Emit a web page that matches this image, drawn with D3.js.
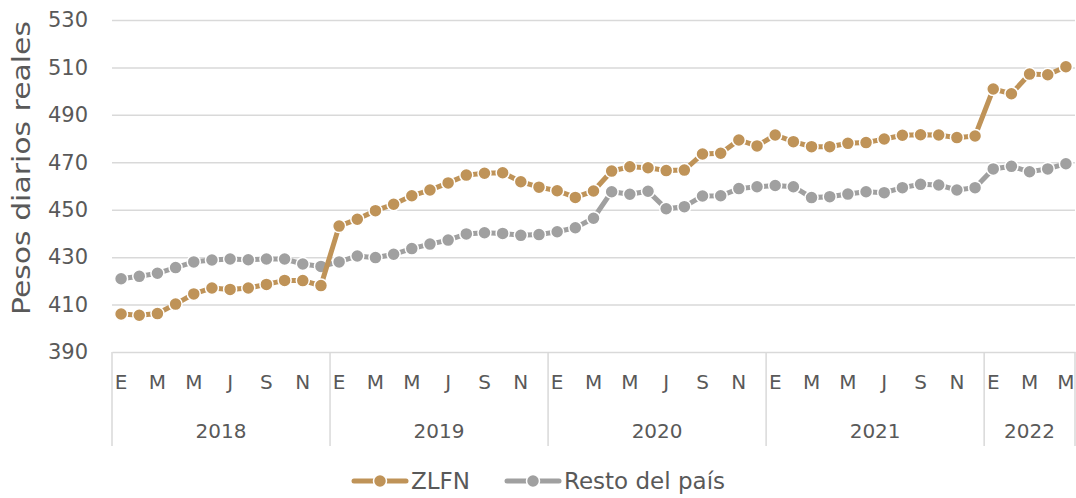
<!DOCTYPE html>
<html>
<head>
<meta charset="utf-8">
<script src="https://cdn.jsdelivr.net/npm/d3@7"></script>
<style>
  body { margin: 0; background: #fff; }
  text { font-family: "DejaVu Sans", sans-serif; fill: #595959; }
</style>
</head>
<body>
<div id="vis"></div>
<script>
// Declare constants for frame
const FRAME_WIDTH = 1076;
const FRAME_HEIGHT = 498;
const MARGINS = {left: 112, right: 1, top: 20, bottom: 146};

const VIS_WIDTH = FRAME_WIDTH - MARGINS.left - MARGINS.right;
const VIS_HEIGHT = FRAME_HEIGHT - MARGINS.top - MARGINS.bottom;

// data
const YEARS = ["2018", "2019", "2020", "2021", "2022"];
const MONTHS_PER_YEAR = [12, 12, 12, 12, 5];
const MONTH_INITIALS = ["E", "F", "M", "A", "M", "J", "J", "A", "S", "O", "N", "D"];
const Y_TICKS = [390, 410, 430, 450, 470, 490, 510, 530];

const ZLFN = [
  406.0, 405.5, 406.2, 410.2, 414.5, 417.0, 416.4, 417.0, 418.5, 420.2, 420.1, 418.0,
  443.1, 446.0, 449.6, 452.3, 455.9, 458.3, 461.3, 464.6, 465.4, 465.6, 461.8, 459.5,
  458.0, 455.2, 457.9, 466.3, 468.1, 467.7, 466.5, 466.7, 473.5, 473.8, 479.4, 476.9,
  481.5, 478.7, 476.6, 476.6, 478.0, 478.3, 479.8, 481.4, 481.6, 481.5, 480.4, 481.1,
  500.9, 498.9, 507.2, 506.9, 510.3
];
const RESTO = [
  420.9, 421.9, 423.2, 425.6, 428.0, 428.8, 429.2, 428.9, 429.2, 429.2, 427.1, 426.1,
  428.0, 430.5, 429.8, 431.2, 433.6, 435.5, 437.2, 439.8, 440.3, 440.0, 439.2, 439.5,
  440.7, 442.4, 446.4, 457.6, 456.5, 457.8, 450.4, 451.3, 455.8, 455.9, 458.9, 459.7,
  460.2, 459.7, 455.1, 455.5, 456.6, 457.6, 457.2, 459.3, 460.7, 460.4, 458.3, 459.3,
  467.2, 468.3, 466.0, 467.2, 469.4
];

const SERIES = [
  {name: "ZLFN", values: ZLFN, color: "#bf9358"},
  {name: "Resto del país", values: RESTO, color: "#a0a0a0"}
];

// build month list
const months = [];
YEARS.forEach((y, yi) => {
  for (let m = 0; m < MONTHS_PER_YEAR[yi]; m++) {
    months.push({key: y + "-" + m, year: y, m: m});
  }
});

const FRAME = d3.select("#vis")
  .append("svg")
    .attr("width", FRAME_WIDTH)
    .attr("height", FRAME_HEIGHT);

const X_SCALE = d3.scaleBand()
  .domain(months.map(d => d.key))
  .range([MARGINS.left, MARGINS.left + VIS_WIDTH]);

const Y_SCALE = d3.scaleLinear()
  .domain([390, 530])
  .range([MARGINS.top + VIS_HEIGHT, MARGINS.top]);

// y axis with gridlines
const yAxis = FRAME.append("g")
  .attr("transform", "translate(" + MARGINS.left + ",0)")
  .call(d3.axisLeft(Y_SCALE).tickValues(Y_TICKS).tickSize(-VIS_WIDTH).tickPadding(24));
yAxis.select(".domain").remove();
yAxis.selectAll(".tick line").attr("stroke", "#d9d9d9").attr("stroke-width", 1.5);
yAxis.selectAll(".tick text").attr("font-size", "21px").attr("fill", "#595959");
yAxis.selectAll(".tick").filter(d => d === 390).select("line").remove();

// axis title
FRAME.append("text")
  .attr("transform", "translate(30," + (MARGINS.top + 148) + ") rotate(-90)")
  .attr("text-anchor", "middle")
  .attr("font-size", "24px")
  .attr("textLength", 294)
  .attr("lengthAdjust", "spacingAndGlyphs")
  .text("Pesos diarios reales");

// x axis (months)
const xAxis = FRAME.append("g")
  .attr("transform", "translate(0," + (MARGINS.top + VIS_HEIGHT) + ")")
  .call(d3.axisBottom(X_SCALE)
    .tickSize(0)
    .tickPadding(23)
    .tickFormat(k => {
      const d = months.find(mm => mm.key === k);
      return d.m % 2 === 0 ? MONTH_INITIALS[d.m] : "";
    }));
xAxis.select(".domain").attr("stroke", "#d9d9d9").attr("stroke-width", 1.5);
xAxis.selectAll(".tick text").attr("font-size", "20px").attr("fill", "#595959");

// year separators and labels
let start = 0;
const bw = X_SCALE.step();
const yearGroup = FRAME.append("g");
const bounds = [];
MONTHS_PER_YEAR.forEach((n, i) => {
  bounds.push({year: YEARS[i], x0: X_SCALE(months[start].key), x1: X_SCALE(months[start + n - 1].key) + bw});
  start += n;
});
const sepX = [bounds[0].x0].concat(bounds.map(b => b.x1));
yearGroup.selectAll("line")
  .data(sepX)
  .enter()
  .append("line")
    .attr("x1", d => d).attr("x2", d => d)
    .attr("y1", MARGINS.top + VIS_HEIGHT)
    .attr("y2", MARGINS.top + VIS_HEIGHT + 94)
    .attr("stroke", "#d9d9d9")
    .attr("stroke-width", 1.5);
yearGroup.selectAll("text")
  .data(bounds)
  .enter()
  .append("text")
    .attr("x", d => (d.x0 + d.x1) / 2)
    .attr("y", MARGINS.top + VIS_HEIGHT + 86)
    .attr("text-anchor", "middle")
    .attr("font-size", "20px")
    .text(d => d.year);

// lines and markers
const line = d3.line()
  .x((d, i) => X_SCALE(months[i].key) + bw / 2)
  .y(d => Y_SCALE(d));

SERIES.slice().reverse().forEach(s => {
  FRAME.append("path")
    .datum(s.values)
    .attr("d", line)
    .attr("fill", "none")
    .attr("stroke", s.color)
    .attr("stroke-width", 5);
  FRAME.append("g")
    .selectAll("circle")
    .data(s.values)
    .enter()
    .append("circle")
      .attr("cx", (d, i) => X_SCALE(months[i].key) + bw / 2)
      .attr("cy", d => Y_SCALE(d))
      .attr("r", 6.5)
      .attr("fill", s.color)
      .attr("stroke", "#fff")
      .attr("stroke-width", 1.5);
});

// legend
const LEGEND_X = [352, 505];
const legend = FRAME.append("g");
SERIES.forEach((s, i) => {
  const g = legend.append("g").attr("transform", "translate(" + LEGEND_X[i] + ",481)");
  g.append("line")
    .attr("x1", 2).attr("x2", 54)
    .attr("stroke", s.color).attr("stroke-width", 5)
    .attr("stroke-linecap", "round");
  g.append("circle")
    .attr("cx", 28).attr("r", 6.5)
    .attr("fill", s.color).attr("stroke", "#fff").attr("stroke-width", 1.5);
  g.append("text")
    .attr("x", 59).attr("y", 8)
    .attr("font-size", "23px")
    .text(s.name);
});
</script>
</body>
</html>
